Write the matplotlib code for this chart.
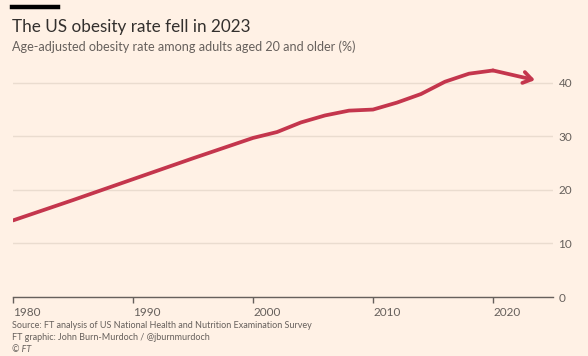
import matplotlib
matplotlib.use('Agg')
import matplotlib.pyplot as plt

# data
years = [1980, 1985, 1990, 1995, 2000, 2002, 2004, 2006, 2008, 2010,
         2012, 2014, 2016, 2018, 2020, 2023.5]
rate = [14.3, 18.1, 22.0, 25.9, 29.7, 30.8, 32.6, 33.9, 34.8, 35.0,
        36.3, 37.9, 40.2, 41.7, 42.3, 40.5]
x_ticks = [1980, 1990, 2000, 2010, 2020]
y_ticks = [0, 10, 20, 30, 40]

BG = '#fff1e5'
RED = '#c4364d'
TEXT = '#33302e'
GREY = '#66605c'
GRID = '#eadccf'

plt.rcParams['font.family'] = ['Lato', 'DejaVu Sans']

fig = plt.figure(figsize=(5.88, 3.56), dpi=100, facecolor=BG)
ax = fig.add_axes([13 / 588, 59 / 356, 540 / 588, 241 / 356], facecolor=BG)

ax.plot(years[:-1], rate[:-1], color=RED, lw=2.7, solid_capstyle='round',
        solid_joinstyle='round', zorder=3)
ax.annotate('', xy=(years[-1], rate[-1]), xytext=(years[-2], rate[-2]),
            arrowprops=dict(arrowstyle='->,head_length=0.6,head_width=0.4',
                            color=RED, lw=2.7, shrinkA=0, shrinkB=0),
            zorder=3)

ax.set_xlim(1980, 2025)
ax.set_ylim(0, 45)
ax.set_yticks(y_ticks)
ax.set_xticks(x_ticks)
ax.set_xticklabels([str(t) for t in x_ticks], ha='left')
ax.yaxis.tick_right()
ax.grid(axis='y', color=GRID, lw=1)
ax.set_axisbelow(True)
for s in ['top', 'left', 'right']:
    ax.spines[s].set_visible(False)
ax.spines['bottom'].set_color(GREY)
ax.spines['bottom'].set_linewidth(1)
ax.tick_params(axis='y', length=0, pad=4, labelsize=8.5, labelcolor=GREY)
ax.tick_params(axis='x', length=4, width=1, color=GREY, pad=3,
               labelsize=8.5, labelcolor=GREY)

# header
fig.add_artist(plt.Line2D([12 / 588, 58 / 588], [1 - 6.5 / 356, 1 - 6.5 / 356],
                          color='black', lw=3.2))
fig.text(12 / 588, 1 - 27 / 356, 'The US obesity rate fell in 2023',
         fontsize=12.3, color=TEXT, va='center')
fig.text(12 / 588, 1 - 47 / 356,
         'Age-adjusted obesity rate among adults aged 20 and older (%)',
         fontsize=9.1, color=GREY, va='center')

# footer
fig.text(12 / 588, 1 - 326 / 356,
         'Source: FT analysis of US National Health and Nutrition Examination Survey',
         fontsize=6.5, color=GREY, va='center')
fig.text(12 / 588, 1 - 338 / 356,
         'FT graphic: John Burn-Murdoch / @jburnmurdoch',
         fontsize=6.5, color=GREY, va='center')
fig.text(12 / 588, 1 - 350 / 356, '© FT', fontsize=6.5, color=GREY,
         va='center', style='italic')

fig.savefig('out.png', dpi=100, facecolor=BG)
